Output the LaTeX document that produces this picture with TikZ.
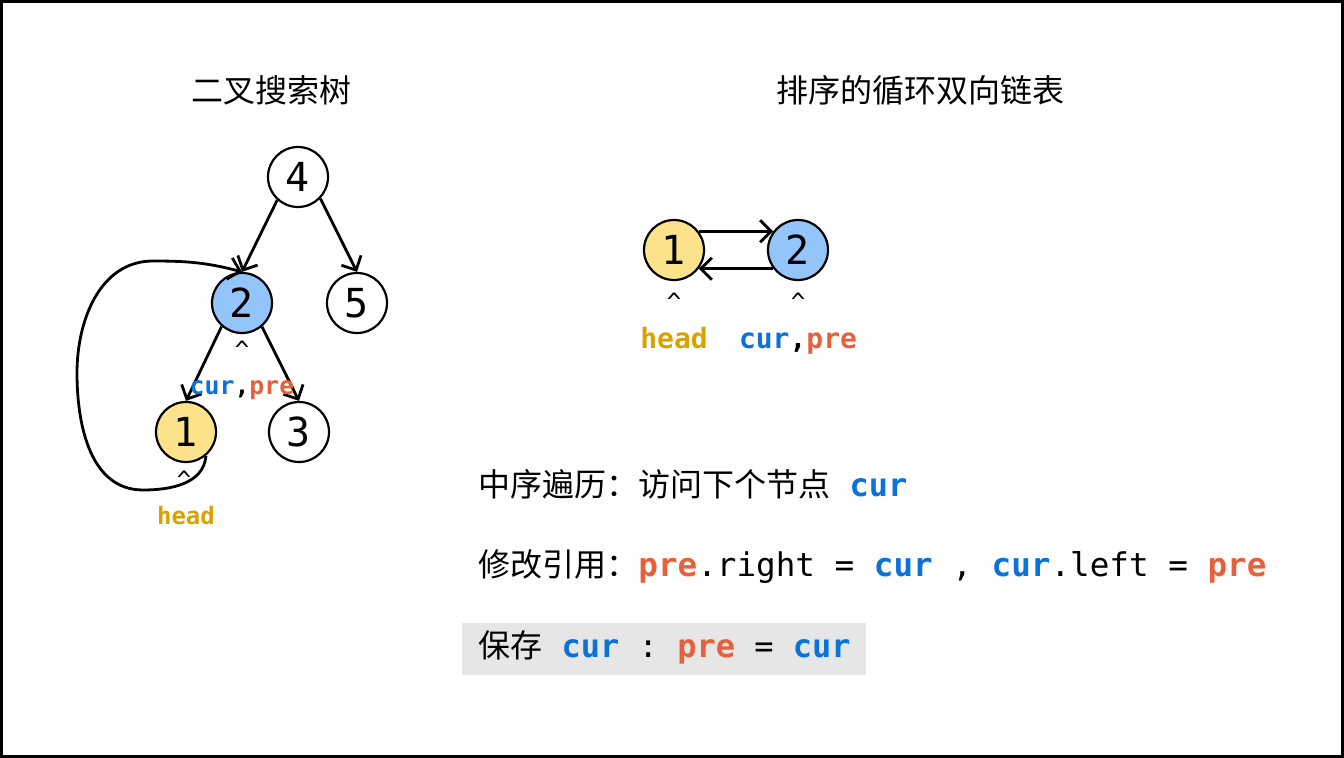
\documentclass[tikz,border=0pt]{standalone}
\usepackage{fontspec}
\setmainfont{Noto Sans CJK SC}
\setmonofont{DejaVu Sans Mono}
\usetikzlibrary{arrows.meta}
\definecolor{cblue}{HTML}{0B72DA}
\definecolor{cred}{HTML}{E5613B}
\definecolor{cgold}{HTML}{D8A200}
\definecolor{nblue}{HTML}{93C5FB}
\definecolor{nyellow}{HTML}{FDE28C}
\definecolor{gbox}{HTML}{E6E6E6}
\newcommand{\kcur}{{\ttfamily\bfseries\color{cblue}cur}}
\newcommand{\kpre}{{\ttfamily\bfseries\color{cred}pre}}
\newcommand{\khead}{{\ttfamily\bfseries\color{cgold}head}}
\begin{document}
\begin{tikzpicture}[x=0.5pt,y=-0.5pt,
  tn/.style={circle,draw,line width=1.1pt,minimum size=30pt,inner sep=0pt,font=\ttfamily\fontsize{20}{20}\selectfont},
  arr/.style={line width=1.4pt,-{Straight Barb[length=5.5pt,width=11pt]}},
  caret/.style={anchor=north,inner sep=0pt,font=\ttfamily\fontsize{12}{12}\selectfont},
  title/.style={font=\fontsize{16}{16}\selectfont},
  lbl/.style={anchor=base,inner sep=0pt},
  line/.style={anchor=base west,inner sep=0pt,font=\fontsize{16}{16}\selectfont},
  code/.style={}]
\useasboundingbox (0,0) rectangle (1344,758);
\draw[line width=1.5pt] (1.5,1.5) rectangle (1342.5,756.5);

% titles
\node[title] (t1) at (271,90) {二叉搜索树};
\node[title] (t2) at (920,90) {排序的循环双向链表};

% tree
\node[tn] (n4) at (298,177) {4};
\node[tn,fill=nblue] (n2) at (242,303) {2};
\node[tn] (n5) at (357,303) {5};
\node[tn,fill=nyellow] (n1) at (186,432) {1};
\node[tn] (n3) at (299,432) {3};
\draw[arr] (n4.-132) -- (n2.north);
\draw[arr] (n4.-44) -- (n5.north);
\draw[arr] (n2.-131) -- (n1.north);
\draw[arr] (n2.-50) -- (n3.north);
\coordinate (c1) at (143,490);
\coordinate (c2) at (77,373);
\coordinate (c3) at (153,261);
\draw[arr] (n1.-50) to[out=-95,in=0] (c1) to[out=180,in=-90] (c2) to[out=90,in=180] (c3) to[out=0,in=165] (n2.north);
\node[caret] (k2) at (242,341) {\textasciicircum};
\node[caret] (k1) at (184,471) {\textasciicircum};
\node[lbl,font=\fontsize{12.4}{12.4}\selectfont] (l2) at (242,395) {\kcur{\ttfamily\bfseries,}\kpre};
\node[lbl,font=\fontsize{12}{12}\selectfont] (l1) at (186,525) {\khead};

% list
\node[tn,fill=nyellow] (r1) at (674,250) {1};
\node[tn,fill=nblue] (r2) at (798,250) {2};
\draw[arr] (r1.37) -- (r2.143);
\draw[arr] (r2.-143) -- (r1.-37);
\node[caret] (rk1) at (674,293) {\textasciicircum};
\node[caret] (rk2) at (798,293) {\textasciicircum};
\node[lbl,font=\fontsize{14}{14}\selectfont] (rl1) at (674,349) {\khead};
\node[lbl,font=\fontsize{14}{14}\selectfont] (rl2) at (798,349) {\kcur{\ttfamily\bfseries,}\kpre};

% text lines
\node[line] (s1) at (478,497) {中序遍历：访问下个节点{\ttfamily\ }\kcur};
\node[line] (s2) at (478,577) {修改引用：{\fontsize{16.3}{16.3}\selectfont\kpre{\ttfamily .right = }\kcur{\ttfamily\ , }\kcur{\ttfamily .left = }\kpre}};
\fill[gbox] (462,623) rectangle (866,675);
\node[line] (s3) at (478,658) {保存{\ttfamily\ }\kcur{\ttfamily\ :\ }\kpre{\ttfamily\ =\ }\kcur};
\end{tikzpicture}
\end{document}
